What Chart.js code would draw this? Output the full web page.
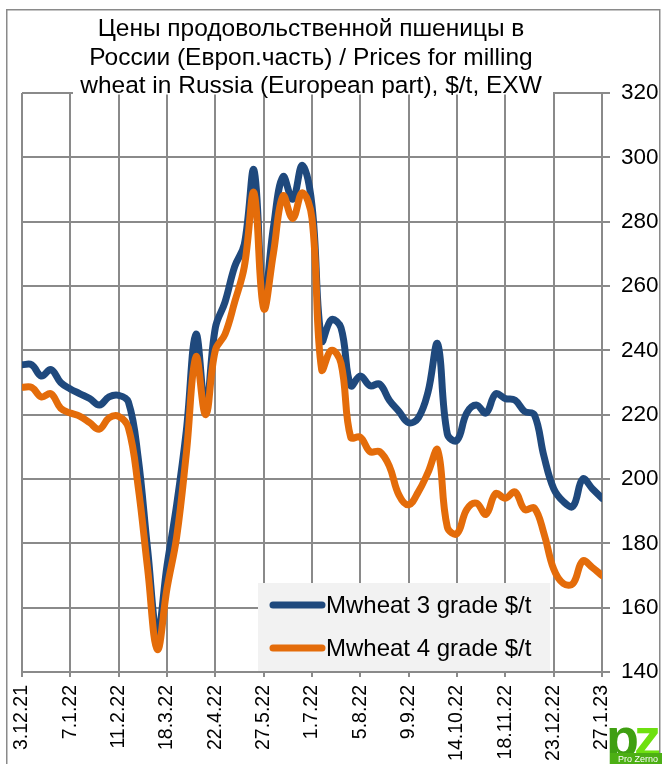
<!DOCTYPE html>
<html>
<head>
<meta charset="utf-8">
<script src="https://cdn.jsdelivr.net/npm/chart.js@4.4.0/dist/chart.umd.min.js"></script>
<style>
  html, body { margin: 0; padding: 0; background: #fff; }
  #wrap { width: 662px; height: 764px; position: relative; }
</style>
</head>
<body>
<div id="wrap"><canvas id="myChart"></canvas></div>
<script>
// chart text
const titleLines = [
    'Цены продовольственной пшеницы в',
    'России (Европ.часть) / Prices for milling',
    'wheat in Russia (European part), $/t, EXW'
]
const seriesNames = ['Mwheat 3 grade $/t', 'Mwheat 4 grade $/t']

// x tick labels, one every 5 weeks (weekly data, 61 points)
const tickLabels = ['3.12.21', '7.1.22', '11.2.22', '18.3.22', '22.4.22', '27.5.22', '1.7.22',
    '5.8.22', '9.9.22', '14.10.22', '18.11.22', '23.12.22', '27.1.23']

// weekly prices, $/t
const mwheat3 = [235.5, 235.5, 232, 234, 230, 228, 226.5, 225, 223, 225.5,
    226, 224, 207, 178, 152, 173, 192, 215, 245, 222,
    247, 255, 266, 273, 296, 255, 278, 294, 287, 297.5,
    285, 243, 249.5, 247, 229, 232, 229, 229.5, 224.5, 221,
    217.5, 219, 227, 242, 214, 212, 220.5, 223, 220.5, 226.5,
    225, 224.5, 221, 220, 207, 197, 193, 191.5, 200, 197,
    194]
const mwheat4 = [228.5, 228.5, 225.5, 226.5, 222, 220.5, 219.5, 217.5, 215.5, 219,
    219.5, 216, 198, 172, 147, 166, 182, 208, 238, 220,
    240, 245, 255, 266, 289, 253, 270, 288, 281, 289,
    281, 234, 240, 236, 213, 213, 208.5, 208.5, 204, 195,
    192, 196, 202, 209, 185, 183, 190.5, 192.5, 189, 195.5,
    194, 196, 190.5, 191, 183, 172, 167.5, 167.5, 174.5, 172.5,
    170]

const yMin = 140
const yMax = 320
const yStep = 20

const FONT = '"Liberation Sans", Arial, sans-serif'
const GRID = '#8a8a8a'
const BLUE = '#1f497d'
const ORANGE = '#e46c0a'

const ctx = document.getElementById('myChart')

// white page + outer frame
const framePlugin = {
    id: 'frame',
    beforeDraw(chart) {
        const c = chart.ctx
        c.save()
        c.fillStyle = '#fff'
        c.fillRect(0, 0, chart.width, chart.height)
        c.strokeStyle = GRID
        c.lineWidth = 1.5
        c.strokeRect(6.75, 9.75, 653, 800)
        c.restore()
    }
}

// title box sitting over the top of the plot, legend box, logo
const overlayPlugin = {
    id: 'overlay',
    afterDraw(chart) {
        const c = chart.ctx
        c.save()
        // title
        c.fillStyle = '#fff'
        c.fillRect(73, 12, 480, 82.5)
        c.fillStyle = '#000'
        c.font = '24.5px ' + FONT
        c.textAlign = 'center'
        c.textBaseline = 'alphabetic'
        let ys = [35.5, 64.5, 92.5]
        titleLines.forEach((t, i) => c.fillText(t, 311, ys[i]))

        // legend
        c.fillStyle = '#f2f2f2'
        c.fillRect(258, 583, 292, 88)
        c.font = '24px ' + FONT
        c.textAlign = 'left'
        c.textBaseline = 'middle'
        let ly = [605, 648]
        chart.data.datasets.forEach((ds, i) => {
            c.strokeStyle = ds.borderColor
            c.lineWidth = 7
            c.lineCap = 'round'
            c.beginPath()
            c.moveTo(273, ly[i])
            c.lineTo(322, ly[i])
            c.stroke()
            c.fillStyle = '#000'
            c.fillText(ds.label, 326, ly[i] + 1)
        })

        // logo
        c.textBaseline = 'alphabetic'
        c.font = 'bold 54px ' + FONT
        c.fillStyle = '#3f9f12'
        c.fillText('p', 606, 756)
        c.fillStyle = '#6ee010'
        c.fillText('z', 634, 756)
        c.fillStyle = '#4caf14'
        c.fillRect(610, 753, 52, 11)
        c.fillStyle = '#fff'
        c.font = '9px ' + FONT
        c.fillText('Pro Zerno', 618, 762)
        c.restore()
    }
}

const data = {
    datasets: [{
        label: seriesNames[0],
        data: mwheat3.map((v, i) => ({ x: i, y: v })),
        borderColor: BLUE,
        order: 1
    }, {
        label: seriesNames[1],
        data: mwheat4.map((v, i) => ({ x: i, y: v })),
        borderColor: ORANGE,
        order: 0
    }]
}

const config = {
    type: 'line',
    data: data,
    options: {
        responsive: true,
        maintainAspectRatio: false,
        animation: false,
        devicePixelRatio: 1,
        layout: { padding: { top: 93, left: 22, right: 0, bottom: 0 } },
        elements: {
            line: { borderWidth: 7, tension: 0.4, borderCapStyle: 'round', borderJoinStyle: 'round', fill: false },
            point: { radius: 0, hoverRadius: 0 }
        },
        plugins: {
            legend: { display: false },
            title: { display: false },
            tooltip: { enabled: false }
        },
        scales: {
            x: {
                type: 'linear',
                position: 'bottom',
                min: 0,
                max: (tickLabels.length - 1) * 5,
                grid: { color: GRID, lineWidth: 2, tickLength: 5 },
                border: { color: GRID, width: 2 },
                ticks: {
                    stepSize: 5,
                    autoSkip: false,
                    maxRotation: 90,
                    minRotation: 90,
                    padding: 8,
                    color: '#000',
                    font: { family: FONT, size: 19.5 },
                    callback: v => tickLabels[v / 5] ?? ''
                },
                afterFit: s => { s.height = 92 }
            },
            y: {
                position: 'right',
                min: yMin,
                max: yMax,
                grid: { color: GRID, lineWidth: 2, tickLength: 8 },
                border: { color: GRID, width: 2 },
                ticks: {
                    stepSize: yStep,
                    padding: 11,
                    color: '#000',
                    font: { family: FONT, size: 22.5 }
                },
                afterFit: s => { s.width = 60 }
            }
        }
    },
    plugins: [framePlugin, overlayPlugin]
}

const myChart = new Chart(ctx, config)
</script>
</body>
</html>
